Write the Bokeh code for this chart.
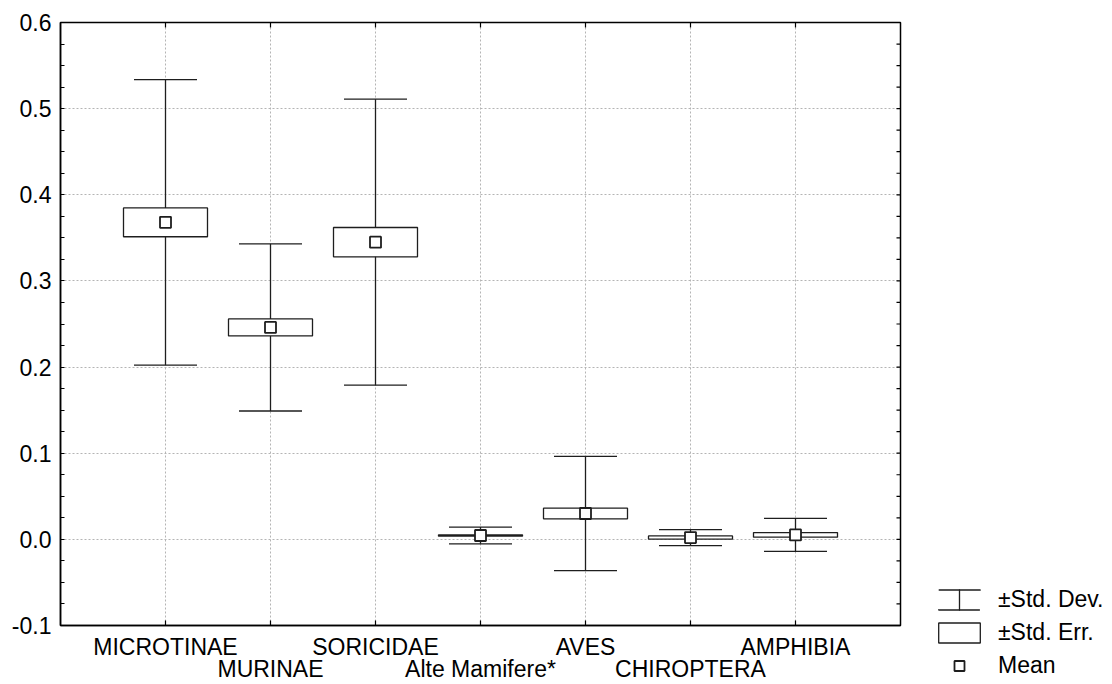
import math
from bokeh.plotting import figure
from bokeh.models import (Range1d, LinearAxis, FixedTicker, NumeralTickFormatter,
                          ColumnDataSource, Grid, Legend, LegendItem)
from bokeh.transform import dodge
from bokeh.embed import file_html
from bokeh.resources import INLINE

# ---------------- data ----------------
categories = ["MICROTINAE", "MURINAE", "SORICIDAE", "Alte Mamifere*",
              "AVES", "CHIROPTERA", "AMPHIBIA"]
means = [0.368, 0.246, 0.345, 0.0045, 0.030, 0.0021, 0.0052]
std_err = [0.0167, 0.0099, 0.0170, 0.0008, 0.0062, 0.0019, 0.0027]
std_dev = [0.1657, 0.0970, 0.1660, 0.0097, 0.0663, 0.0093, 0.0192]
y_ticks = [-0.1, 0.0, 0.1, 0.2, 0.3, 0.4, 0.5, 0.6]
legend_labels = ["\u00b1Std. Dev.", "\u00b1Std. Err.", "Mean"]

# ---------------- styles ----------------
FONT = "Liberation Sans"
FSIZE = "23px"
INK = "#1e1e1e"
BOX_W = 0.8
CAP_W = 0.6
OFF = -100  # shift that keeps legend-only proxy glyphs out of view

positions = list(range(1, len(categories) + 1))
minor = []
for a, b in zip(y_ticks[:-1], y_ticks[1:]):
    minor += [a + (b - a) * k / 4 for k in (1, 2, 3)]

src = ColumnDataSource(dict(
    x=positions,
    mean=means,
    se_lo=[m - s for m, s in zip(means, std_err)],
    se_hi=[m + s for m, s in zip(means, std_err)],
    sd_lo=[m - s for m, s in zip(means, std_dev)],
    sd_hi=[m + s for m, s in zip(means, std_dev)],
    sd_span=[2 * s for s in std_dev],
    cap_l=[x - CAP_W / 2 for x in positions],
    cap_r=[x + CAP_W / 2 for x in positions],
))

xr = Range1d(0, len(categories) + 1)
yr = Range1d(y_ticks[0], y_ticks[-1])
p = figure(frame_width=840, frame_height=603, x_range=xr, y_range=yr,
           x_axis_type=None, y_axis_type=None,
           output_backend="svg", toolbar_location=None,
           min_border_left=60, min_border_top=22, min_border_right=210,
           min_border_bottom=0)
p.outline_line_color = "black"
p.outline_line_width = 1.5

yticker = FixedTicker(ticks=y_ticks, minor_ticks=minor)
xticker = FixedTicker(ticks=positions)

for dim, tk in ((0, xticker), (1, yticker)):
    g = Grid(dimension=dim, ticker=tk, grid_line_color="#b4b4b4",
             grid_line_dash="2 2", grid_line_width=1)
    p.add_layout(g)


def style(ax, tick_in, minor_in, standoff):
    ax.axis_line_color = "black"
    ax.axis_line_width = 1.5
    ax.major_tick_line_color = "black"
    ax.minor_tick_line_color = "black"
    ax.major_tick_out = 0
    ax.minor_tick_out = 0
    ax.major_tick_in = tick_in
    ax.minor_tick_in = minor_in
    ax.major_label_text_font = FONT
    ax.major_label_text_color = "black"
    ax.major_label_standoff = standoff
    ax.major_label_text_font_size = FSIZE


left = LinearAxis(ticker=yticker, formatter=NumeralTickFormatter(format="0.0"))
style(left, 4, 4, 9)
p.add_layout(left, "left")

bottom1 = LinearAxis(ticker=FixedTicker(ticks=positions[0::2]))
style(bottom1, 0, 0, 8)
bottom1.major_label_overrides = {x: c for x, c in zip(positions[0::2], categories[0::2])}
p.add_layout(bottom1, "below")

bottom2 = LinearAxis(ticker=FixedTicker(ticks=positions[1::2]))
style(bottom2, 0, 0, -7)
bottom2.axis_line_color = None
bottom2.major_tick_line_color = None
bottom2.major_label_overrides = {x: c for x, c in zip(positions[1::2], categories[1::2])}
p.add_layout(bottom2, "below")

# inward tick marks on bottom, top and right frame edges (clipped to frame)
n = len(positions)
p.scatter(x=positions * 2, y=[yr.start] * n + [yr.end] * n, marker="dash",
          angle=math.pi / 2, size=10, line_color="black", line_width=1.2)
ry = y_ticks + minor
p.scatter(x=[xr.end] * len(ry), y=ry, marker="dash", size=8,
          line_color="black", line_width=1.2)

# data marks
p.segment(x0="x", y0="sd_lo", x1="x", y1="sd_hi", source=src, line_color=INK, line_width=1.3)
p.segment(x0="cap_l", y0="sd_hi", x1="cap_r", y1="sd_hi", source=src, line_color=INK, line_width=1.3)
p.segment(x0="cap_l", y0="sd_lo", x1="cap_r", y1="sd_lo", source=src, line_color=INK, line_width=1.3)
box_r = p.vbar(x="x", width=BOX_W, top="se_hi", bottom="se_lo", source=src,
               fill_color="white", line_color=INK, line_width=1.3)
mean_r = p.scatter(x="x", y="mean", source=src, marker="square", size=11,
                   fill_color="white", line_color=INK, line_width=1.8)

# legend-only proxies for the std-dev symbol (shifted out of the visible range)
sd_caps = p.quad(left=dodge("cap_l", OFF), right=dodge("cap_r", OFF), top="sd_hi",
                 bottom="sd_lo", source=src, fill_color=None, line_color=INK,
                 line_width=1.3, line_dash="42 20")
sd_stem = p.ellipse(x=dodge("x", OFF), y="mean", width=0.005, height="sd_span", source=src,
                    fill_color=None, line_color=INK, line_width=1.3)

legend = Legend(items=[
    LegendItem(label=legend_labels[0], renderers=[sd_caps, sd_stem]),
    LegendItem(label=legend_labels[1], renderers=[box_r]),
    LegendItem(label=legend_labels[2], renderers=[mean_r]),
], location=(33, -54), orientation="vertical", glyph_width=52, glyph_height=25,
    label_height=25, spacing=6, padding=0, margin=0, label_standoff=13,
    border_line_color=None, background_fill_alpha=0,
    label_text_font=FONT, label_text_font_size=FSIZE, label_text_color="black")
p.add_layout(legend, "right")

open("out.html", "w").write(file_html(p, INLINE))
